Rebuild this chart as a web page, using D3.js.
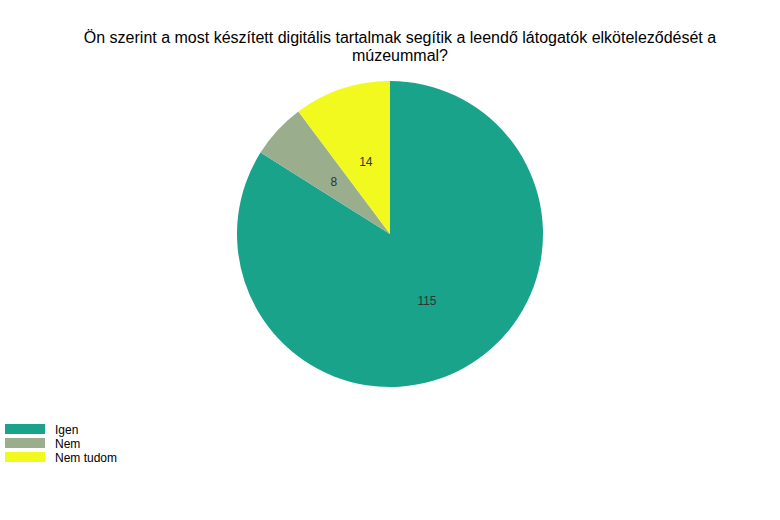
<!DOCTYPE html>
<html>
<head>
<meta charset="utf-8">
<script src="https://cdn.jsdelivr.net/npm/d3@7"></script>
<style>
    body { margin: 0; background: #fff; }
    svg { display: block; font-family: 'Liberation Sans', Arial, sans-serif; }
</style>
</head>
<body>
<div class="Canvas"></div>
<script>
let categories = ['Igen', 'Nem', 'Nem tudom'];
let values = [115, 8, 14];
let colors = ['#19a38a', '#9aae8e', '#f2f91e'];
let titleLines = [
    'Ön szerint a most készített digitális tartalmak segítik a leendő látogatók elköteleződését a',
    'múzeummal?',
];

let width = 780;
let height = 520;
let radius = 153;
let cx = 390;
let cy = 234;

let svg = d3.select('.Canvas').append('svg').attr('width', width).attr('height', height);

svg.append('g')
    .selectAll('text')
    .data(titleLines)
    .enter()
    .append('text')
    .attr('x', 400)
    .attr('y', (d, i) => 43 + i * 18)
    .attr('text-anchor', 'middle')
    .attr('font-size', '16px')
    .attr('fill', '#000')
    .text((d) => d);

let slices = categories.map((c, i) => ({ name: c, value: values[i], color: colors[i] }));

let pie = d3.pie().sort(null).value((d) => d.value);
let arc = d3.arc().innerRadius(0).outerRadius(radius);
let labelArc = d3.arc().innerRadius(radius * 0.5).outerRadius(radius * 0.5);

let g = svg.append('g').attr('transform', `translate(${cx},${cy})`);
let arcs = pie(slices);

g.selectAll('path')
    .data(arcs)
    .enter()
    .append('path')
    .attr('d', arc)
    .attr('fill', (d) => d.data.color);

g.selectAll('text')
    .data(arcs)
    .enter()
    .append('text')
    .attr('transform', (d) => `translate(${labelArc.centroid(d)})`)
    .attr('text-anchor', 'middle')
    .attr('dy', '0.35em')
    .attr('font-size', '12px')
    .attr('fill', '#333')
    .text((d) => d.data.value);

// legend
let legend = svg.append('g').attr('transform', 'translate(5,424)');
let rows = legend.selectAll('g').data(slices).enter().append('g')
    .attr('transform', (d, i) => `translate(0,${i * 14})`);
rows.append('rect').attr('width', 40).attr('height', 10).attr('fill', (d) => d.color);
rows.append('text')
    .attr('x', 50)
    .attr('y', 9.5)
    .attr('font-size', '12px')
    .attr('fill', '#000')
    .text((d) => d.name);
</script>
</body>
</html>
